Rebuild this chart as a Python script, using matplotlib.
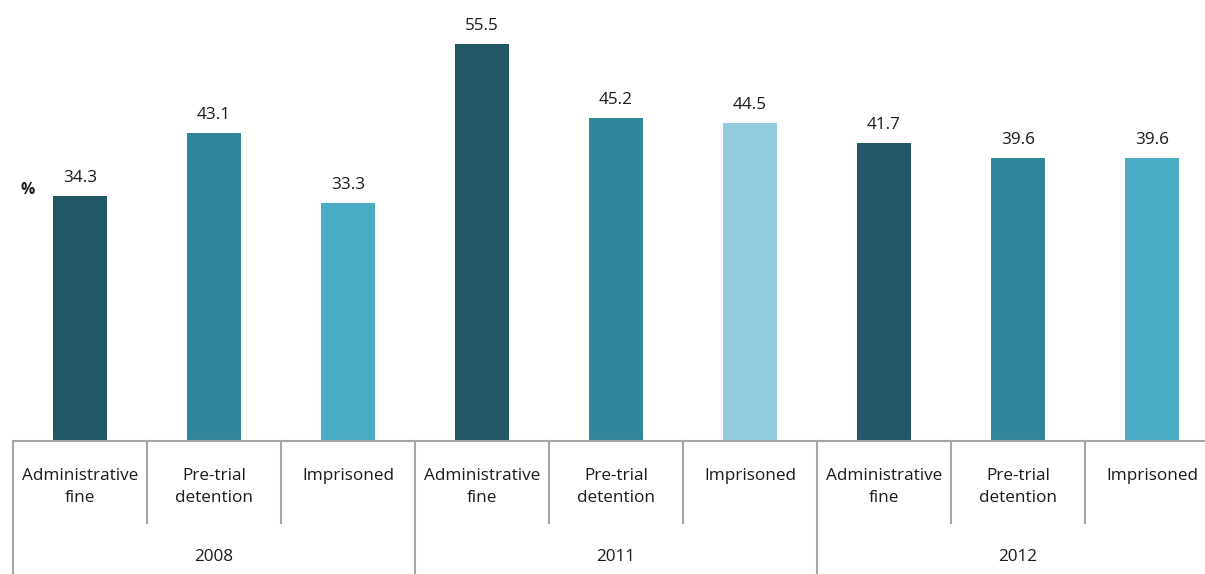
import matplotlib.pyplot as plt

# data
years = ["2008", "2011", "2012"]
categories = ["Administrative\nfine", "Pre-trial\ndetention", "Imprisoned"]
values_2008 = [34.3, 43.1, 33.3]
values_2011 = [55.5, 45.2, 44.5]
values_2012 = [41.7, 39.6, 39.6]
colors_2008 = ["#225866", "#31869B", "#4BACC6"]
colors_2011 = ["#225866", "#31869B", "#93CDDD"]
colors_2012 = ["#225866", "#31869B", "#4BACC6"]

plt.rcParams['font.family'] = ['Open Sans', 'DejaVu Sans']

W, H = 1205, 574
BASE_Y = 441          # pixel row of the baseline
LEFT_X = 13           # pixel column of the left edge
CAT_W = 134           # pixel width of one category slot
FS = 12.3
TXT = '#1a1a1a'

fig = plt.figure(figsize=(W / 100, H / 100), dpi=100)
ax = fig.add_axes([LEFT_X / W, (H - BASE_Y) / H, (W - LEFT_X) / W, BASE_Y / H])

ymax = 61.65
ax.set_xlim(0, (W - LEFT_X) / CAT_W)
ax.set_ylim(0, ymax)
ax.axis('off')

def ay(py):
    # pixel row -> axes fraction
    return (BASE_Y - py) / BASE_Y

all_vals = values_2008 + values_2011 + values_2012
all_cols = colors_2008 + colors_2011 + colors_2012
labels = categories * 3
xs = [i + 0.5 for i in range(len(all_vals))]

bars = ax.bar(xs, all_vals, width=54 / CAT_W, color=all_cols, zorder=2)
for x, v in zip(xs, all_vals):
    ax.annotate(f"{v:.1f}", (x, v), xytext=(0, 7), textcoords='offset points',
                ha='center', va='bottom', fontsize=FS, color=TXT)

trans = ax.get_xaxis_transform()
grey = '#A6A6A6'
# baseline
ax.plot([0, 9], [0, 0], transform=trans, color=grey, lw=1.5, clip_on=False)
# separators
for i in range(10):
    y_end = ay(574) if i % 3 == 0 else ay(523)
    ax.plot([i, i], [0, y_end], transform=trans, color=grey, lw=1.5, clip_on=False)

for x, lab in zip(xs, labels):
    ax.text(x, ay(476 if '\n' not in lab else 487.5), lab, transform=trans,
            ha='center', va='center', fontsize=FS, linespacing=1.5, color=TXT)

for g, yr in enumerate(years):
    ax.text(g * 3 + 1.5, ay(557), yr, transform=trans, ha='center', va='center',
            fontsize=FS, color=TXT)

fig.text(28 / W, 1 - 190 / H, "%", ha='center', va='center', fontsize=FS - 1,
         fontweight='bold', color=TXT)

fig.savefig("out.png", dpi=100)
